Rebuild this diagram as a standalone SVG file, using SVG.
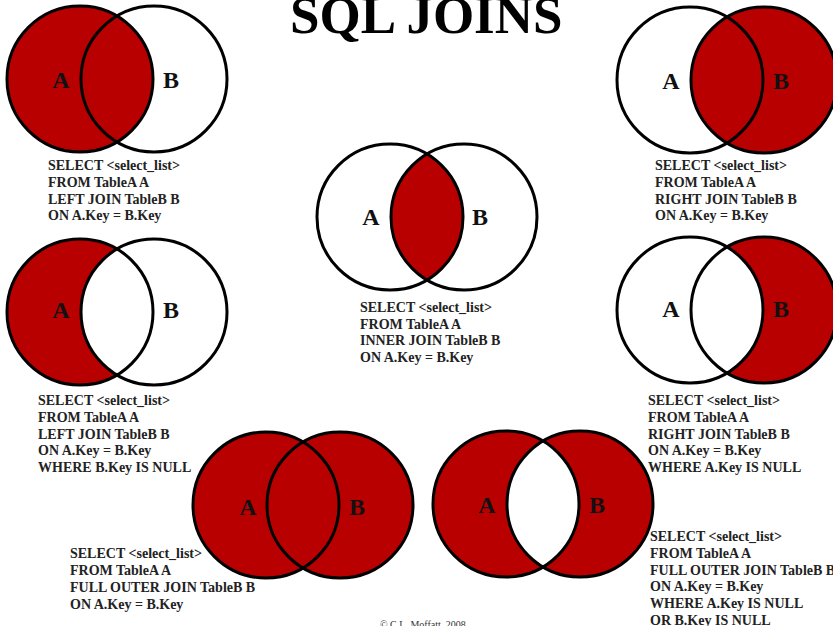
<svg xmlns="http://www.w3.org/2000/svg" width="833" height="626" viewBox="0 0 833 626">
<style>
.bg{fill:#fff}
.ring{fill:none;stroke:#000;stroke-width:3}
.red{fill:#b90000}
.wht{fill:#fff}
.lbl{font-family:"Liberation Serif","Times New Roman",serif;font-weight:bold;font-size:24px;fill:#111;text-anchor:middle}
.sql{font-family:"Liberation Serif","Times New Roman",serif;font-weight:bold;font-size:14px;fill:#222}
.title{font-family:"Liberation Serif","Times New Roman",serif;font-weight:bold;font-size:53px;fill:#000}
.copy{font-family:"Liberation Serif","Times New Roman",serif;font-size:10px;fill:#333}
</style>
<defs>
<clipPath id="cInnerB"><circle cx="464" cy="217" r="73"/></clipPath>
<clipPath id="cExclB"><circle cx="580" cy="504" r="73"/></clipPath>
</defs>
<rect class="bg" x="0" y="0" width="833" height="626"/>
<text class="title" x="290" y="33">SQL JOINS</text>

<g id="left-join">
<circle class="wht" cx="154" cy="79" r="73"/>
<circle class="red" cx="80" cy="79" r="73"/>
<circle class="ring" cx="80" cy="79" r="73"/>
<circle class="ring" cx="154" cy="79" r="73"/>
<text class="lbl" x="61" y="88">A</text>
<text class="lbl" x="171" y="88">B</text>
<text class="sql" x="48" y="170">SELECT &lt;select_list&gt;</text>
<text class="sql" x="48" y="187">FROM TableA A</text>
<text class="sql" x="48" y="204">LEFT JOIN TableB B</text>
<text class="sql" x="48" y="220">ON A.Key = B.Key</text>
</g>

<g id="right-join">
<circle class="wht" cx="690" cy="80" r="73"/>
<circle class="red" cx="764" cy="80" r="73"/>
<circle class="ring" cx="690" cy="80" r="73"/>
<circle class="ring" cx="764" cy="80" r="73"/>
<text class="lbl" x="671" y="89">A</text>
<text class="lbl" x="781" y="89">B</text>
<text class="sql" x="655" y="170">SELECT &lt;select_list&gt;</text>
<text class="sql" x="655" y="187">FROM TableA A</text>
<text class="sql" x="655" y="204">RIGHT JOIN TableB B</text>
<text class="sql" x="655" y="220">ON A.Key = B.Key</text>
</g>

<g id="inner-join">
<circle class="wht" cx="390" cy="217" r="73"/>
<circle class="wht" cx="464" cy="217" r="73"/>
<circle class="red" cx="390" cy="217" r="73" clip-path="url(#cInnerB)"/>
<circle class="ring" cx="390" cy="217" r="73"/>
<circle class="ring" cx="464" cy="217" r="73"/>
<text class="lbl" x="371" y="225">A</text>
<text class="lbl" x="480" y="225">B</text>
<text class="sql" x="360" y="312">SELECT &lt;select_list&gt;</text>
<text class="sql" x="360" y="329">FROM TableA A</text>
<text class="sql" x="360" y="345">INNER JOIN TableB B</text>
<text class="sql" x="360" y="362">ON A.Key = B.Key</text>
</g>

<g id="left-excluding-join">
<circle class="red" cx="80" cy="312" r="73"/>
<circle class="wht" cx="154" cy="312" r="73"/>
<circle class="ring" cx="80" cy="312" r="73"/>
<circle class="ring" cx="154" cy="312" r="73"/>
<text class="lbl" x="61" y="318">A</text>
<text class="lbl" x="171" y="318">B</text>
<text class="sql" x="38" y="405">SELECT &lt;select_list&gt;</text>
<text class="sql" x="38" y="422">FROM TableA A</text>
<text class="sql" x="38" y="439">LEFT JOIN TableB B</text>
<text class="sql" x="38" y="455">ON A.Key = B.Key</text>
<text class="sql" x="38" y="472">WHERE B.Key IS NULL</text>
</g>

<g id="right-excluding-join">
<circle class="red" cx="764" cy="310" r="73"/>
<circle class="wht" cx="690" cy="310" r="73"/>
<circle class="ring" cx="690" cy="310" r="73"/>
<circle class="ring" cx="764" cy="310" r="73"/>
<text class="lbl" x="671" y="317">A</text>
<text class="lbl" x="781" y="317">B</text>
<text class="sql" x="648" y="405">SELECT &lt;select_list&gt;</text>
<text class="sql" x="648" y="422">FROM TableA A</text>
<text class="sql" x="648" y="439">RIGHT JOIN TableB B</text>
<text class="sql" x="648" y="455">ON A.Key = B.Key</text>
<text class="sql" x="648" y="472">WHERE A.Key IS NULL</text>
</g>

<g id="full-outer-join">
<circle class="red" cx="266" cy="505" r="73"/>
<circle class="red" cx="340" cy="505" r="73"/>
<circle class="ring" cx="266" cy="505" r="73"/>
<circle class="ring" cx="340" cy="505" r="73"/>
<text class="lbl" x="248" y="515">A</text>
<text class="lbl" x="357" y="515">B</text>
<text class="sql" x="70" y="558">SELECT &lt;select_list&gt;</text>
<text class="sql" x="70" y="575">FROM TableA A</text>
<text class="sql" x="70" y="592">FULL OUTER JOIN TableB B</text>
<text class="sql" x="70" y="609">ON A.Key = B.Key</text>
</g>

<g id="outer-excluding-join">
<circle class="red" cx="506" cy="504" r="73"/>
<circle class="red" cx="580" cy="504" r="73"/>
<circle class="wht" cx="506" cy="504" r="73" clip-path="url(#cExclB)"/>
<circle class="ring" cx="506" cy="504" r="73"/>
<circle class="ring" cx="580" cy="504" r="73"/>
<text class="lbl" x="487" y="513">A</text>
<text class="lbl" x="597" y="513">B</text>
<text class="sql" x="650" y="541">SELECT &lt;select_list&gt;</text>
<text class="sql" x="650" y="558">FROM TableA A</text>
<text class="sql" x="650" y="575">FULL OUTER JOIN TableB B</text>
<text class="sql" x="650" y="591">ON A.Key = B.Key</text>
<text class="sql" x="650" y="608">WHERE A.Key IS NULL</text>
<text class="sql" x="650" y="625">OR B.Key IS NULL</text>
</g>

<text class="copy" x="380" y="628">© C.L. Moffatt, 2008</text>
<g id="connectors"></g>
</svg>
